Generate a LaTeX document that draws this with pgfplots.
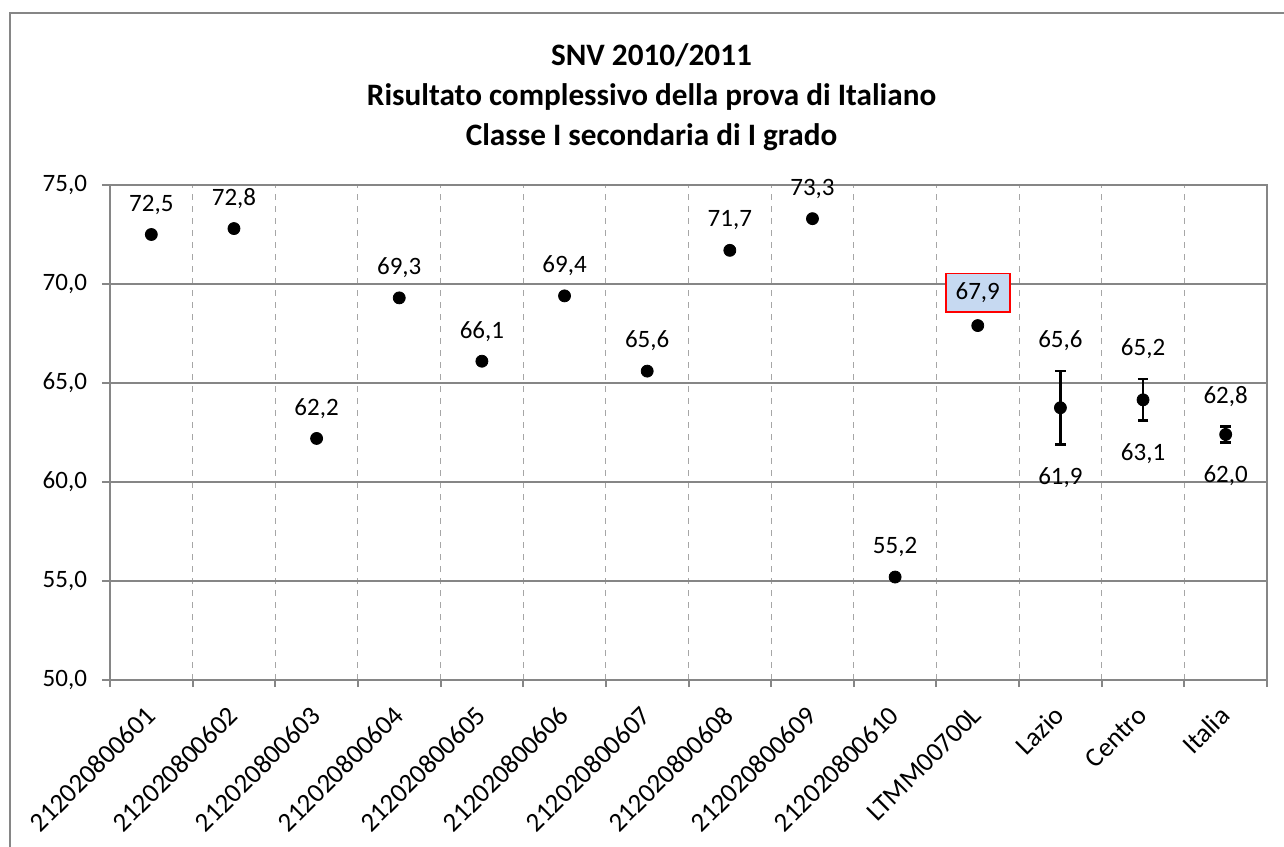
\documentclass[border=0pt]{standalone}
\usepackage{pgfplots}
\pgfplotsset{compat=1.18}
\usepackage{fontspec}
\setmainfont{Carlito}
\definecolor{axgray}{RGB}{134,134,134}
\definecolor{lgray}{RGB}{166,166,166}
\definecolor{lblue}{RGB}{198,217,241}
\begin{document}
\begin{tikzpicture}[x=1pt,y=1pt]
\path[use as bounding box] (0,0) rectangle (642,423);
\draw[axgray, line width=1pt] (5,-2) -- (5,416.5) -- (644,416.5);
\node[align=center, font=\fontsize{15.6pt}{20pt}\selectfont\bfseries] at (325.75,374.5)
  {SNV 2010/2011\\Risultato complessivo della prova di Italiano\\Classe I secondaria di I grado};
\begin{axis}[
  at={(55pt,83pt)}, anchor=south west,
  scale only axis, width=578.5pt, height=247.5pt,
  xmin=-0.5, xmax=13.5, ymin=50, ymax=75,
  ytick={50,55,...,75},
  xtick={0,...,13},
  xticklabels={212020800601,212020800602,212020800603,212020800604,212020800605,212020800606,212020800607,212020800608,212020800609,212020800610,LTMM00700L,Lazio,Centro,Italia},
  minor xtick={-0.5,0.5,...,13.5},
  tick pos=left, tick align=outside,
  major tick length=4pt, minor tick length=3.5pt,
  tick style={axgray, line width=1pt},
  major x tick style={draw=none},
  ymajorgrids, xminorgrids,
  major grid style={axgray, line width=1pt},
  minor grid style={lgray, dashed, line width=0.5pt},
  axis line style={axgray, line width=1.3pt},
  /pgf/number format/assume math mode=true,
  tick label style={font=\fontsize{12.5pt}{15pt}\selectfont},
  yticklabel style={xshift=-4pt, /pgf/number format/.cd, fixed, fixed zerofill, precision=1, use comma},
  xticklabel style={xshift=2pt, yshift=-9pt, rotate=45, anchor=east, font=\fontsize{13.5pt}{16pt}\selectfont},
  nodes near coords={\pgfmathprintnumber[fixed, fixed zerofill, precision=1, use comma, assume math mode=true]{\pgfplotspointmeta}},
  every node near coord/.append style={font=\fontsize{12.5pt}{15pt}\selectfont, text=black},
  clip=false,
]
\addplot[only marks, mark=*, mark size=3pt, black,
  nodes near coords style={anchor=center, yshift=15pt}]
  coordinates {(0,72.5) (1,72.8) (2,62.2) (3,69.3) (4,66.1) (5,69.4) (6,65.6) (7,71.7) (8,73.3) (9,55.2)};
\addplot[only marks, mark=*, mark size=3pt, black,
  nodes near coords style={anchor=center, yshift=16.5pt, fill=lblue, draw=red, line width=0.9pt, inner xsep=5pt, inner ysep=4.5pt}]
  coordinates {(10,67.9)};
\addplot[only marks, mark=*, mark size=3pt, black, nodes near coords={},
  error bars/.cd, y dir=both, y explicit,
  error bar style={line width=1.2pt, black},
  error mark options={rotate=90, mark size=2.6pt, line width=1.2pt, black}]
  coordinates {(11,63.75) +- (0,1.85) (12,64.15) +- (0,1.05) (13,62.4) +- (0,0.4)};
\addplot[draw=none, mark=none, nodes near coords style={anchor=center, yshift=15pt}]
  coordinates {(11,65.6) (12,65.2) (13,62.8)};
\addplot[draw=none, mark=none, nodes near coords style={anchor=center, yshift=-16.5pt}]
  coordinates {(11,61.9) (12,63.1) (13,62.0)};
\end{axis}
\end{tikzpicture}
\end{document}
